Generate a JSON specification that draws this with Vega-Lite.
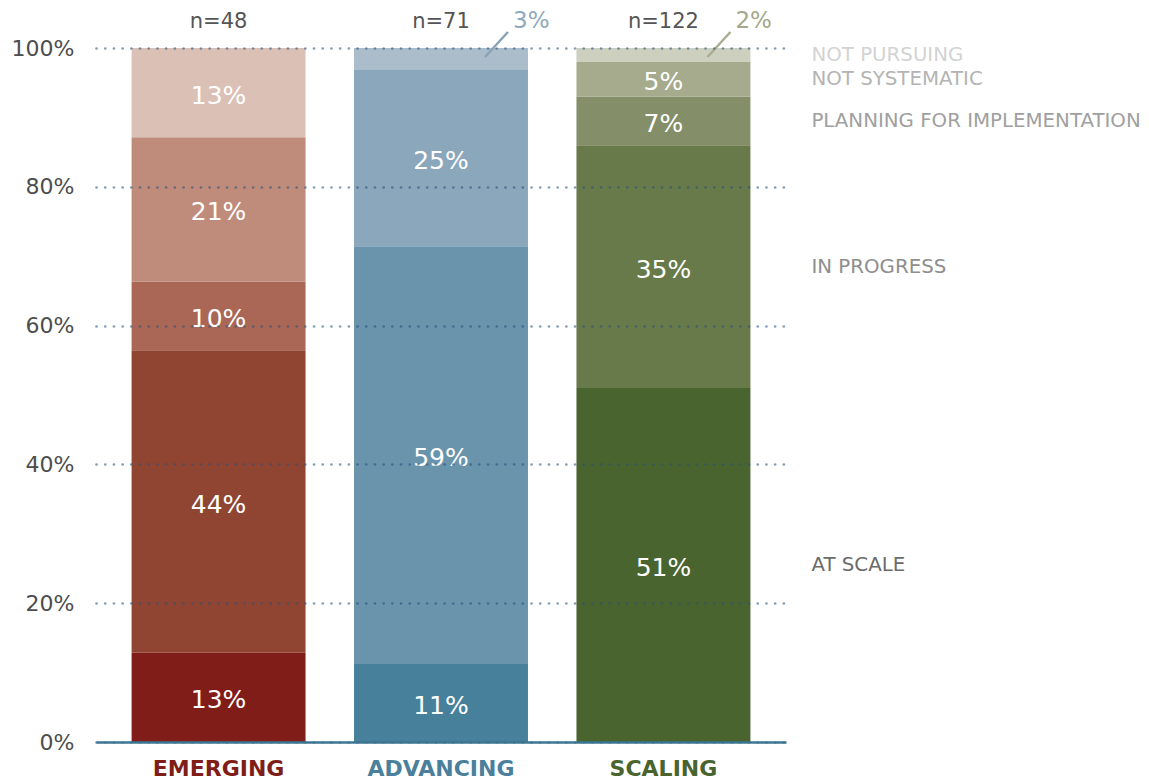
{
  "$schema": "https://vega.github.io/schema/vega-lite/v6.json",
  "width": 690,
  "height": 694,
  "autosize": {"type": "none"},
  "padding": {"left": 96, "top": 48, "right": 363, "bottom": 42},
  "background": "white",
  "config": {"view": {"stroke": null}, "font": "DejaVu Sans", "text": {"font": "DejaVu Sans"}},
  "datasets": {
    "segments": [
      {"group": "EMERGING", "status": "AT SCALE", "level": 1, "segment": "EMERGING / AT SCALE", "value": 0.13},
      {"group": "EMERGING", "status": "IN PROGRESS", "level": 2, "segment": "EMERGING / IN PROGRESS", "value": 0.44},
      {"group": "EMERGING", "status": "PLANNING FOR IMPLEMENTATION", "level": 3, "segment": "EMERGING / PLANNING FOR IMPLEMENTATION", "value": 0.10},
      {"group": "EMERGING", "status": "NOT SYSTEMATIC", "level": 4, "segment": "EMERGING / NOT SYSTEMATIC", "value": 0.21},
      {"group": "EMERGING", "status": "NOT PURSUING", "level": 5, "segment": "EMERGING / NOT PURSUING", "value": 0.13},
      {"group": "ADVANCING", "status": "AT SCALE", "level": 1, "segment": "ADVANCING / AT SCALE", "value": 0.11},
      {"group": "ADVANCING", "status": "IN PROGRESS", "level": 2, "segment": "ADVANCING / IN PROGRESS", "value": 0.59},
      {"group": "ADVANCING", "status": "PLANNING FOR IMPLEMENTATION", "level": 3, "segment": "ADVANCING / PLANNING FOR IMPLEMENTATION", "value": 0.25},
      {"group": "ADVANCING", "status": "NOT SYSTEMATIC", "level": 4, "segment": "ADVANCING / NOT SYSTEMATIC", "value": 0.03},
      {"group": "SCALING", "status": "AT SCALE", "level": 1, "segment": "SCALING / AT SCALE", "value": 0.51},
      {"group": "SCALING", "status": "IN PROGRESS", "level": 2, "segment": "SCALING / IN PROGRESS", "value": 0.35},
      {"group": "SCALING", "status": "PLANNING FOR IMPLEMENTATION", "level": 3, "segment": "SCALING / PLANNING FOR IMPLEMENTATION", "value": 0.07},
      {"group": "SCALING", "status": "NOT SYSTEMATIC", "level": 4, "segment": "SCALING / NOT SYSTEMATIC", "value": 0.05},
      {"group": "SCALING", "status": "NOT PURSUING", "level": 5, "segment": "SCALING / NOT PURSUING", "value": 0.02}
    ],
    "samples": [
      {"group": "EMERGING", "n": 48},
      {"group": "ADVANCING", "n": 71},
      {"group": "SCALING", "n": 122}
    ]
  },
  "data": {"name": "segments"},
  "encoding": {
    "x": {
      "field": "group",
      "type": "nominal",
      "sort": ["EMERGING", "ADVANCING", "SCALING"],
      "scale": {"paddingInner": 0.218, "paddingOuter": 0.16},
      "axis": {
        "title": null,
        "domainColor": "#3b7591",
        "domainWidth": 2.5,
        "ticks": false,
        "grid": false,
        "labelAngle": 0,
        "labelFont": "DejaVu Sans",
        "labelFontWeight": "bold",
        "labelFontSize": 22,
        "labelPadding": 16,
        "zindex": 2,
        "labelColor": {
          "condition": [
            {"test": "datum.value === 'EMERGING'", "value": "#7f1d19"},
            {"test": "datum.value === 'ADVANCING'", "value": "#4a809b"}
          ],
          "value": "#4a642f"
        }
      }
    }
  },
  "layer": [
    {
      "mark": {"type": "bar"},
      "encoding": {
        "y": {
          "field": "value",
          "type": "quantitative",
          "stack": "normalize",
          "scale": {"domain": [0, 1], "nice": false},
          "axis": {
            "title": null,
            "format": ".0%",
            "values": [0, 0.2, 0.4, 0.6, 0.8, 1],
            "domain": false,
            "ticks": false,
            "labelPadding": 22,
            "labelFont": "DejaVu Sans",
            "labelFontSize": 22,
            "labelColor": "#4d4d4d",
            "labelFlush": false,
            "labelOverlap": false,
            "grid": true,
            "gridColor": "#24507a",
            "gridOpacity": 0.55,
            "gridDash": [0.1, 8.6],
            "gridCap": "round",
            "gridWidth": 2.7,
            "zindex": 1
          }
        },
        "color": {
          "field": "segment",
          "type": "nominal",
          "legend": null,
          "scale": {
            "domain": [
              "EMERGING / AT SCALE", "EMERGING / IN PROGRESS", "EMERGING / PLANNING FOR IMPLEMENTATION", "EMERGING / NOT SYSTEMATIC", "EMERGING / NOT PURSUING",
              "ADVANCING / AT SCALE", "ADVANCING / IN PROGRESS", "ADVANCING / PLANNING FOR IMPLEMENTATION", "ADVANCING / NOT SYSTEMATIC",
              "SCALING / AT SCALE", "SCALING / IN PROGRESS", "SCALING / PLANNING FOR IMPLEMENTATION", "SCALING / NOT SYSTEMATIC", "SCALING / NOT PURSUING"
            ],
            "range": [
              "#801d19", "#904533", "#aa6756", "#bf8c7b", "#dbc0b5",
              "#46809b", "#6a93ac", "#8ba7bc", "#abbccb",
              "#4a642f", "#687a49", "#848f69", "#a6ab8e", "#cdd0bf"
            ]
          }
        },
        "order": {"field": "level", "type": "ordinal"}
      }
    },
    {
      "mark": {"type": "text", "color": "white", "fontSize": 25, "dy": 3},
      "encoding": {
        "y": {"field": "value", "type": "quantitative", "stack": "normalize", "bandPosition": 0.5},
        "detail": {"field": "segment"},
        "order": {"field": "level", "type": "ordinal"},
        "text": {"field": "value", "type": "quantitative", "format": ".0%"},
        "opacity": {"condition": {"test": "datum.value < 0.04", "value": 0}, "value": 1}
      }
    },
    {
      "transform": [{"filter": "datum.group === 'SCALING'"}],
      "mark": {"type": "text", "align": "left", "dx": 148, "fontSize": 19.8},
      "encoding": {
        "y": {"field": "value", "type": "quantitative", "stack": "normalize", "bandPosition": 0.5},
        "detail": {"field": "segment"},
        "order": {"field": "level", "type": "ordinal"},
        "text": {"field": "status"},
        "color": {
          "condition": [
            {"test": "datum.status === 'NOT PURSUING'", "value": "#d3d3d3"},
            {"test": "datum.status === 'NOT SYSTEMATIC'", "value": "#b4b4b4"},
            {"test": "datum.status === 'PLANNING FOR IMPLEMENTATION'", "value": "#a0a0a0"},
            {"test": "datum.status === 'IN PROGRESS'", "value": "#8e8e8e"}
          ],
          "value": "#6b6b6b"
        }
      }
    },
    {
      "transform": [{"filter": "datum.value < 0.04"}],
      "mark": {"type": "rule", "strokeWidth": 2.5, "xOffset": 44, "x2Offset": 67, "yOffset": 9, "y2Offset": -16},
      "encoding": {
        "x2": {"field": "group"},
        "y": {"datum": 1, "type": "quantitative"},
        "y2": {"datum": 1},
        "color": {
          "condition": [{"test": "datum.group === 'ADVANCING'", "value": "#8aa3b8"}],
          "value": "#a9ad92"
        }
      }
    },
    {
      "transform": [{"filter": "datum.value < 0.04"}],
      "mark": {"type": "text", "align": "left", "dx": 72, "dy": -27, "fontSize": 23},
      "encoding": {
        "y": {"datum": 1, "type": "quantitative"},
        "text": {"field": "value", "type": "quantitative", "format": ".0%"},
        "color": {
          "condition": [{"test": "datum.group === 'ADVANCING'", "value": "#8fa9bd"}],
          "value": "#a4a98b"
        }
      }
    },
    {
      "data": {"name": "samples"},
      "mark": {"type": "text", "fontSize": 21, "color": "#555555", "dy": -26, "text": {"expr": "'n=' + datum.n"}},
      "encoding": {
        "y": {"datum": 1, "type": "quantitative"}
      }
    }
  ]
}
